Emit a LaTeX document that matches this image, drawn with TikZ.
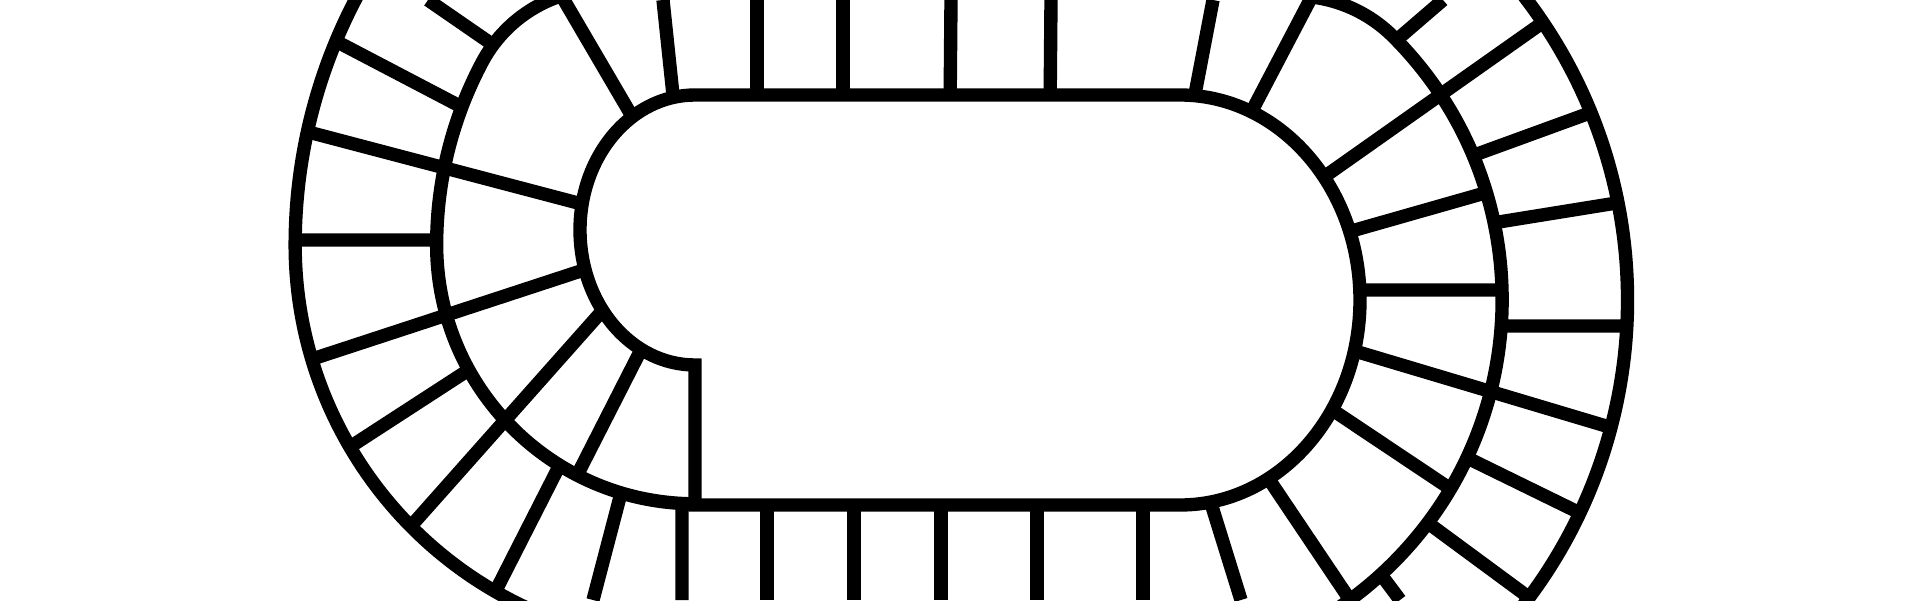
\documentclass[tikz,border=0pt]{standalone}
\usepackage{tikz}
\usetikzlibrary{intersections}

\newcommand{\spoke}[3]{%
  \path[name path=spokeline] #2 -- #3;
  \path[name intersections={of=#1 and spokeline, sort by=spokeline, by=sp}];
  \draw[track] (sp) -- #3;
}
\newcommand{\rung}[4]{%
  \path[name path=rungline] #3 -- #4;
  \path[name intersections={of=#1 and rungline, sort by=rungline, by=ra}];
  \path[name intersections={of=#2 and rungline, sort by=rungline, by=rb}];
  \draw[track] (ra) -- (rb);
}

\begin{document}
\begin{tikzpicture}[track/.style={line width=3.8pt, line join=round}, centre/.style={track, line join=miter, fill=white}]
    \useasboundingbox (0,0) rectangle (19.2,6);
    \fill[white] (0,0) rectangle (19.2,6);
    \clip (0,0) rectangle (19.2,6);

    \draw[track, name path=outerL] (3.91,6.59) arc[start angle=145, end angle=180, radius=5.30] arc[start angle=180, end angle=250, radius=4.00];
    \draw[track, name path=midL] (5.92,6.105) arc[start angle=95, end angle=152, radius=1.38] arc[start angle=152, end angle=180, radius=3.89] arc[start angle=180, end angle=270, radius=2.59];
    \draw[track, name path=midR] (13.07,6.035) arc[start angle=85, end angle=45, radius=1.39] arc[start angle=45, end angle=-75, radius=3.72];
    \draw[track, name path=outerR] (15.11,6.20) arc[start angle=40, end angle=-50, radius=4.98];

    \spoke{midL}{(5.12,5.42)}{(4.28,6.00)}
    \rung{outerL}{midL}{(3.22,5.66)}{(4.75,4.86)}
    \spoke{outerL}{(2.89,4.73)}{(5.97,3.92)}
    \rung{outerL}{midL}{(2.77,3.60)}{(4.57,3.60)}
    \spoke{outerL}{(2.97,2.36)}{(5.99,3.35)}
    \rung{outerL}{midL}{(3.36,1.44)}{(4.81,2.38)}
    \spoke{outerL}{(3.97,0.58)}{(6.11,2.99)}
    \rung{outerL}{midL}{(4.84,-0.14)}{(5.66,1.47)}
    \spoke{midL}{(6.25,1.22)}{(5.93,0.00)}
    \spoke{midL}{(6.82,1.15)}{(6.82,0.00)}
    \spoke{midL}{(5.69,1.09)}{(6.47,2.62)}

    \draw[track] (5.61,6.05) -- (6.40,4.70);
    \draw[track] (6.63,6.00) -- (6.75,4.86);
    \draw[track] (7.57,6.00) -- (7.57,4.85);
    \draw[track] (8.43,6.00) -- (8.43,4.85);
    \draw[track] (9.51,6.00) -- (9.50,4.85);
    \draw[track] (10.51,6.00) -- (10.50,4.85);
    \draw[track] (12.13,6.00) -- (11.91,4.85);
    \draw[track] (13.10,6.00) -- (12.44,4.74);

    \spoke{midR}{(13.85,5.50)}{(14.43,6.00)}
    \spoke{outerR}{(15.59,5.89)}{(13.14,4.16)}
    \rung{midR}{outerR}{(14.61,4.40)}{(16.09,4.94)}
    \spoke{midR}{(15.06,4.13)}{(13.34,3.64)}
    \rung{midR}{outerR}{(14.80,3.75)}{(16.35,4.00)}
    \spoke{midR}{(15.20,3.10)}{(13.42,3.10)}
    \rung{midR}{outerR}{(14.80,2.74)}{(16.44,2.74)}
    \spoke{outerR}{(16.26,1.68)}{(13.38,2.54)}
    \rung{midR}{outerR}{(14.47,1.52)}{(15.94,0.80)}
    \spoke{midR}{(14.64,1.02)}{(13.16,2.01)}
    \rung{midR}{outerR}{(14.17,0.85)}{(15.46,-0.10)}
    \spoke{midR}{(13.71,0.39)}{(14.00,0.00)}
    \spoke{midR}{(13.58,-0.12)}{(12.60,1.34)}

    \draw[track] (12.41,0.00) -- (12.05,1.16);
    \draw[track] (11.43,0.00) -- (11.43,1.15);
    \draw[track] (10.37,0.00) -- (10.37,1.15);
    \draw[track] (9.41,0.00) -- (9.41,1.15);
    \draw[track] (8.54,0.00) -- (8.54,1.15);
    \draw[track] (7.67,0.00) -- (7.67,1.15);

    \filldraw[centre] (9.00,5.05) -- (11.80,5.05) arc[start angle=90, end angle=-90, x radius=1.80, y radius=2.05] -- (6.95,0.95) -- (6.95,2.35) arc[start angle=-90, end angle=-270, x radius=1.15, y radius=1.35] -- cycle;
\end{tikzpicture}
\end{document}
